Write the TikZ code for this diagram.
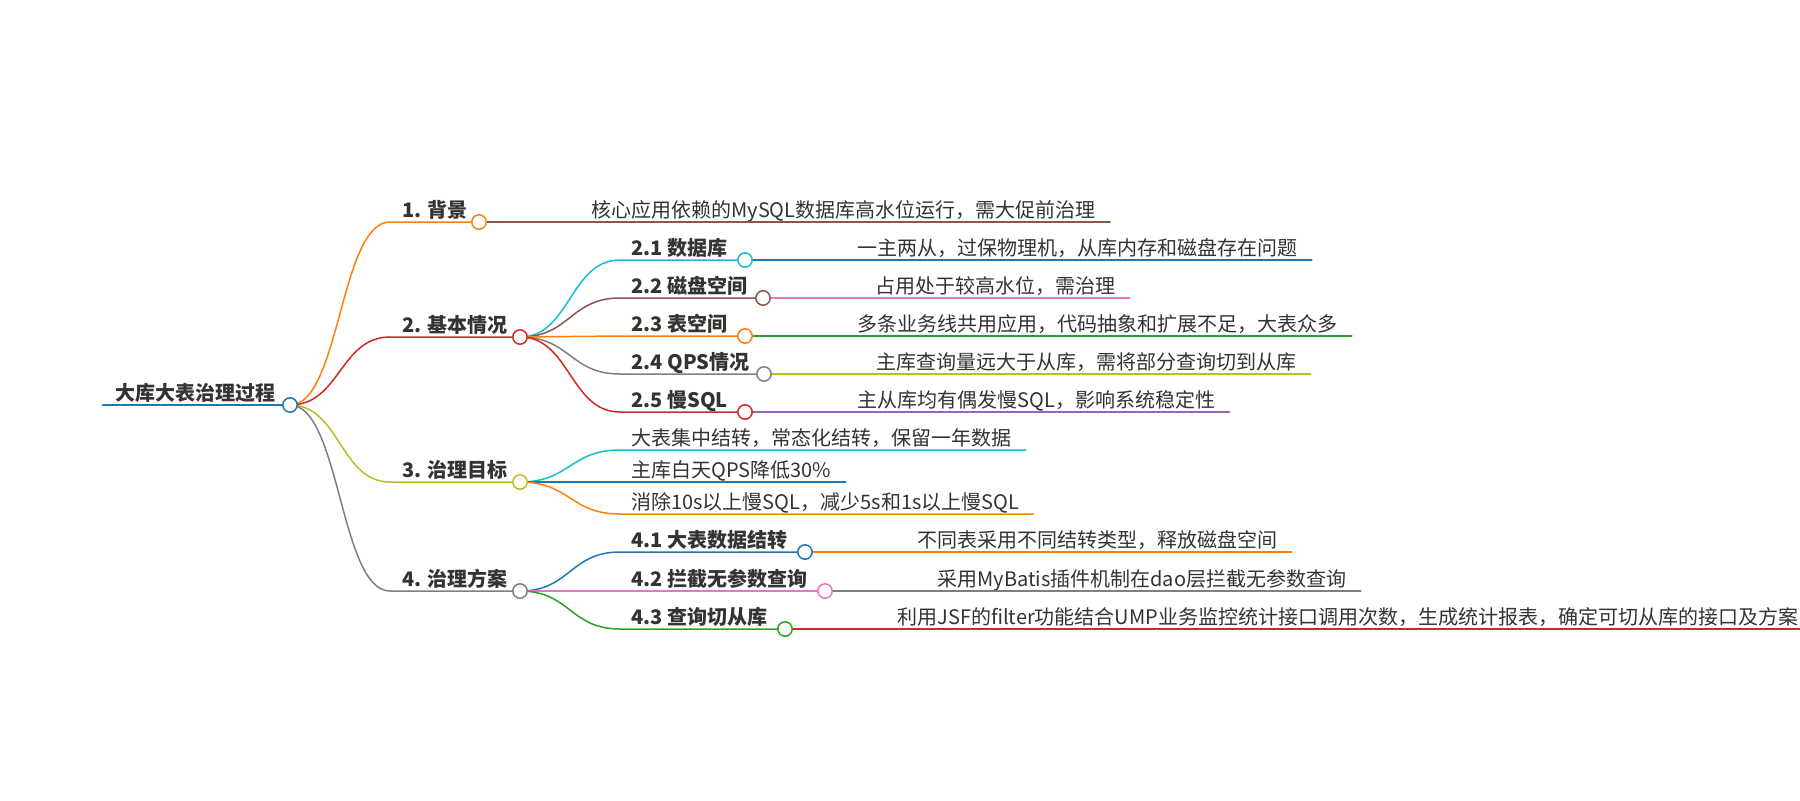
\documentclass[tikz,border=0pt]{standalone}
\usepackage{fontspec}
\setmainfont{Noto Sans CJK SC}
\usetikzlibrary{positioning}
\definecolor{txt}{HTML}{333333}
\definecolor{mmblue}{HTML}{1F77B4}
\definecolor{mmorange}{HTML}{FF7F0E}
\definecolor{mmgreen}{HTML}{2CA02C}
\definecolor{mmred}{HTML}{D62728}
\definecolor{mmpurple}{HTML}{9467BD}
\definecolor{mmbrown}{HTML}{8C564B}
\definecolor{mmpink}{HTML}{E377C2}
\definecolor{mmgray}{HTML}{7F7F7F}
\definecolor{mmolive}{HTML}{BCBD22}
\definecolor{mmcyan}{HTML}{17BECF}

\tikzset{
  topic/.style={anchor=base west, inner sep=0pt, text=txt, font=\fontsize{10pt}{12pt}\selectfont\bfseries},
  leaf/.style={anchor=base west, inner sep=0pt, text=txt, font=\fontsize{10pt}{12pt}\selectfont},
  branch/.style={line width=0.75pt},
  link/.style={out=0, in=180, distance=25pt},
  dot/.style={fill=white, line width=0.75pt},
}

\begin{document}
\begin{tikzpicture}[line cap=round,line join=round,x=0.5pt,y=-0.5pt]
\fill[white] (0,0) rectangle (1800,800);
\useasboundingbox (0,0) rectangle (1800,800);
% root
\coordinate (r0) at (103,405);
\coordinate (r) at (290,405);
\node [topic] (root) at (115,400) {大库大表治理过程};
\draw [mmblue, line width=1.2pt] (r0) -- (r);
% level 1
\coordinate (s1) at (390,222); \coordinate (c1) at (479,222);
\coordinate (s2) at (390,337); \coordinate (c2) at (520,337);
\coordinate (s3) at (390,482); \coordinate (c3) at (520,482);
\coordinate (s4) at (390,591); \coordinate (c4) at (520,591);
\node [topic] (n1) at (402,217) {1. 背景};
\node [topic] (n2) at (402,332) {2. 基本情况};
\node [topic] (n3) at (402,477) {3. 治理目标};
\node [topic] (n4) at (402,586) {4. 治理方案};
\draw [mmorange, branch] (r) to[link] (s1) -- (c1);
\draw [mmred, branch] (r) to[link] (s2) -- (c2);
\draw [mmolive, branch] (r) to[link] (s3) -- (c3);
\draw [mmgray, branch] (r) to[link] (s4) -- (c4);
% 1. leaf
\coordinate (s11) at (579,222);
\node [leaf] (n11) at (591,217) {核心应用依赖的MySQL数据库高水位运行，需大促前治理};
\draw [mmbrown, branch] (c1) to[link] (s11) -- (n11.east |- s11) -- ++(14,0);
% 2.x
\coordinate (s21) at (620,260); \coordinate (c21) at (745,260);
\coordinate (s22) at (620,298); \coordinate (c22) at (763,298);
\coordinate (s23) at (620,336); \coordinate (c23) at (745,336);
\coordinate (s24) at (620,374); \coordinate (c24) at (764,374);
\coordinate (s25) at (620,412); \coordinate (c25) at (745,412);
\node [topic] (n21) at (631,255) {2.1 数据库};
\node [topic] (n22) at (631,293) {2.2 磁盘空间};
\node [topic] (n23) at (631,331) {2.3 表空间};
\node [topic] (n24) at (631,369) {2.4 QPS情况};
\node [topic] (n25) at (631,407) {2.5 慢SQL};
\draw [mmcyan, branch] (c2) to[link] (s21) -- (c21);
\draw [mmbrown, branch] (c2) to[link] (s22) -- (c22);
\draw [mmorange, branch] (c2) to[link] (s23) -- (c23);
\draw [mmgray, branch] (c2) to[link] (s24) -- (c24);
\draw [mmred, branch] (c2) to[link] (s25) -- (c25);
% 2.x leaves
\coordinate (s211) at (845,260);
\coordinate (s221) at (863,298);
\coordinate (s231) at (845,336);
\coordinate (s241) at (864,374);
\coordinate (s251) at (845,412);
\node [leaf] (n211) at (857,255) {一主两从，过保物理机，从库内存和磁盘存在问题};
\node [leaf] (n221) at (875,293) {占用处于较高水位，需治理};
\node [leaf] (n231) at (857,331) {多条业务线共用应用，代码抽象和扩展不足，大表众多};
\node [leaf] (n241) at (876,369) {主库查询量远大于从库，需将部分查询切到从库};
\node [leaf] (n251) at (857,407) {主从库均有偶发慢SQL，影响系统稳定性};
\draw [mmblue, branch] (c21) to[link] (s211) -- (n211.east |- s211) -- ++(14,0);
\draw [mmpink, branch] (c22) to[link] (s221) -- (n221.east |- s221) -- ++(14,0);
\draw [mmgreen, branch] (c23) to[link] (s231) -- (n231.east |- s231) -- ++(14,0);
\draw [mmolive, branch] (c24) to[link] (s241) -- (n241.east |- s241) -- ++(14,0);
\draw [mmpurple, branch] (c25) to[link] (s251) -- (n251.east |- s251) -- ++(14,0);
% 3.x leaves
\coordinate (s31) at (620,450);
\coordinate (s32) at (620,482);
\coordinate (s33) at (620,514);
\node [leaf] (n31) at (631,445) {大表集中结转，常态化结转，保留一年数据};
\node [leaf] (n32) at (631,477) {主库白天QPS降低30\%};
\node [leaf] (n33) at (631,509) {消除10s以上慢SQL，减少5s和1s以上慢SQL};
\draw [mmcyan, branch] (c3) to[link] (s31) -- (n31.east |- s31) -- ++(14,0);
\draw [mmblue, branch] (c3) to[link] (s32) -- (n32.east |- s32) -- ++(14,0);
\draw [mmorange, branch] (c3) to[link] (s33) -- (n33.east |- s33) -- ++(14,0);
% 4.x
\coordinate (s41) at (620,552); \coordinate (c41) at (805,552);
\coordinate (s42) at (620,591); \coordinate (c42) at (825,591);
\coordinate (s43) at (620,629); \coordinate (c43) at (785,629);
\node [topic] (n41) at (631,547) {4.1 大表数据结转};
\node [topic] (n42) at (631,586) {4.2 拦截无参数查询};
\node [topic] (n43) at (631,624) {4.3 查询切从库};
\draw [mmblue, branch] (c4) to[link] (s41) -- (c41);
\draw [mmpink, branch] (c4) to[link] (s42) -- (c42);
\draw [mmgreen, branch] (c4) to[link] (s43) -- (c43);
% 4.x leaves
\coordinate (s411) at (905,552);
\coordinate (s421) at (925,591);
\coordinate (s431) at (885,629);
\node [leaf] (n411) at (917,547) {不同表采用不同结转类型，释放磁盘空间};
\node [leaf] (n421) at (937,586) {采用MyBatis插件机制在dao层拦截无参数查询};
\node [leaf] (n431) at (897,624) {利用JSF的filter功能结合UMP业务监控统计接口调用次数，生成统计报表，确定可切从库的接口及方案};
\draw [mmorange, branch] (c41) to[link] (s411) -- (n411.east |- s411) -- ++(14,0);
\draw [mmgray, branch] (c42) to[link] (s421) -- (n421.east |- s421) -- ++(14,0);
\draw [mmred, branch] (c43) to[link] (s431) -- (n431.east |- s431) -- ++(14,0);
% circles
\draw [mmblue, dot] (r) circle [radius=3.6pt];
\draw [mmorange, dot] (c1) circle [radius=3.6pt];
\draw [mmred, dot] (c2) circle [radius=3.6pt];
\draw [mmolive, dot] (c3) circle [radius=3.6pt];
\draw [mmgray, dot] (c4) circle [radius=3.6pt];
\draw [mmcyan, dot] (c21) circle [radius=3.6pt];
\draw [mmbrown, dot] (c22) circle [radius=3.6pt];
\draw [mmorange, dot] (c23) circle [radius=3.6pt];
\draw [mmgray, dot] (c24) circle [radius=3.6pt];
\draw [mmred, dot] (c25) circle [radius=3.6pt];
\draw [mmblue, dot] (c41) circle [radius=3.6pt];
\draw [mmpink, dot] (c42) circle [radius=3.6pt];
\draw [mmgreen, dot] (c43) circle [radius=3.6pt];
\end{tikzpicture}
\end{document}
